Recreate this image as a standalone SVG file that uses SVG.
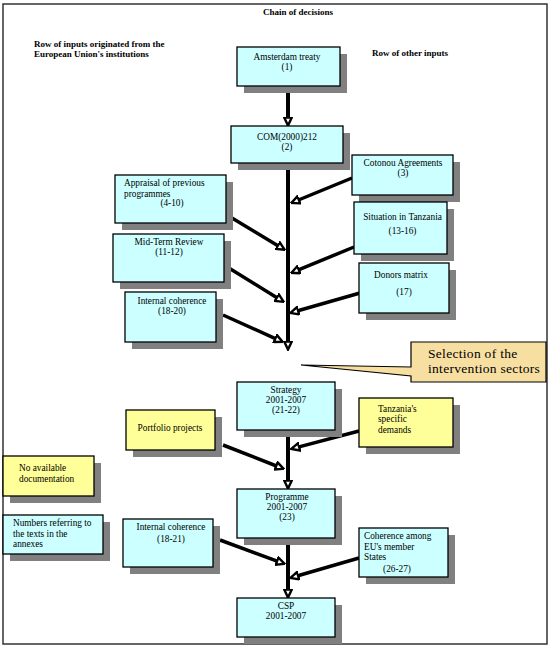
<svg xmlns="http://www.w3.org/2000/svg" width="550" height="651" viewBox="0 0 550 651">
<defs>
<style>
.bg{fill:#ffffff}
.frame{fill:none;stroke:#333333;stroke-width:1.5}
.shadow{fill:#808080}
.cyan{fill:#ccffff;stroke:#000000;stroke-width:1.3}
.yellow{fill:#ffff99;stroke:#000000;stroke-width:1.3}
.callout{fill:#f7dfa2;stroke:#000000;stroke-width:1.2}
text{font-family:"Liberation Serif","Times New Roman",serif;font-size:9.3px;fill:#000000}
.c{text-anchor:middle}
.hdr{font-weight:bold;font-size:9px}
.big{font-size:13.5px;letter-spacing:0.3px}
.main{stroke:#000000;stroke-width:4;fill:none}
.branch{stroke:#000000;stroke-width:3.5;fill:none}
</style>
<marker id="ah" viewBox="0 0 10 10" refX="4" refY="5" markerWidth="10" markerHeight="10" markerUnits="userSpaceOnUse" orient="auto">
<path d="M1,1.2 L9,5 L1,8.8 Z" fill="#ffffff" stroke="#000000" stroke-width="2.4" stroke-linejoin="miter"/>
</marker>
</defs>
<rect class="bg" x="0" y="0" width="550" height="651"/>
<rect class="frame" x="3" y="4" width="544" height="640"/>
<text class="c hdr" x="298" y="15">Chain of decisions</text>
<text class="hdr" x="34" y="47">Row of inputs originated from the</text>
<text class="hdr" x="34" y="57">European Union's institutions</text>
<text class="hdr" x="372" y="56">Row of other inputs</text>

<g id="connectors">
<line class="main" x1="288" y1="86" x2="288" y2="120.6" marker-end="url(#ah)"/>
<line class="main" x1="288" y1="163" x2="288" y2="344.6" marker-end="url(#ah)"/>
<line class="main" x1="288" y1="430" x2="288" y2="483.6" marker-end="url(#ah)"/>
<line class="main" x1="288" y1="538" x2="288" y2="592.6" marker-end="url(#ah)"/>
<line class="branch" x1="352" y1="178" x2="296" y2="201" marker-end="url(#ah)"/>
<line class="branch" x1="227" y1="215" x2="280.4" y2="247.2" marker-end="url(#ah)"/>
<line class="branch" x1="354" y1="247" x2="296" y2="270.9" marker-end="url(#ah)"/>
<line class="branch" x1="224" y1="265" x2="279.4" y2="299.2" marker-end="url(#ah)"/>
<line class="branch" x1="360" y1="293" x2="295.2" y2="311.5" marker-end="url(#ah)"/>
<line class="branch" x1="223" y1="315" x2="278.1" y2="339.8" marker-end="url(#ah)"/>
<line class="branch" x1="359" y1="431" x2="296.2" y2="447.6" marker-end="url(#ah)"/>
<line class="branch" x1="223" y1="445" x2="279" y2="467" marker-end="url(#ah)"/>
<line class="branch" x1="359" y1="558" x2="295.2" y2="576.5" marker-end="url(#ah)"/>
<line class="branch" x1="220" y1="540" x2="279.9" y2="562.1" marker-end="url(#ah)"/>
</g>

<g id="amsterdam">
<rect class="shadow" x="244" y="54" width="103" height="39"/>
<rect class="cyan" x="237" y="47" width="103" height="39"/>
<text class="c" x="287" y="60">Amsterdam treaty</text>
<text class="c" x="287" y="70">(1)</text>
</g>
<g id="com">
<rect class="shadow" x="238" y="133" width="112" height="37"/>
<rect class="cyan" x="231" y="126" width="112" height="37"/>
<text class="c" x="287" y="140">COM(2000)212</text>
<text class="c" x="287" y="150">(2)</text>
</g>
<g id="cotonou">
<rect class="shadow" x="359" y="162" width="101" height="40"/>
<rect class="cyan" x="352" y="155" width="101" height="40"/>
<text class="c" x="403" y="166">Cotonou Agreements</text>
<text class="c" x="403" y="176">(3)</text>
</g>
<g id="appraisal">
<rect class="shadow" x="122" y="182" width="111" height="48"/>
<rect class="cyan" x="115" y="175" width="111" height="48"/>
<text x="124" y="186">Appraisal of previous</text>
<text x="124" y="197">programmes</text>
<text class="c" x="172" y="206">(4-10)</text>
</g>
<g id="situation">
<rect class="shadow" x="361" y="209" width="93" height="52"/>
<rect class="cyan" x="354" y="202" width="93" height="52"/>
<text class="c" x="402.5" y="220">Situation in Tanzania</text>
<text class="c" x="402.5" y="234">(13-16)</text>
</g>
<g id="midterm">
<rect class="shadow" x="120" y="241" width="111" height="48"/>
<rect class="cyan" x="113" y="234" width="111" height="48"/>
<text class="c" x="169" y="245">Mid-Term Review</text>
<text class="c" x="169" y="255">(11-12)</text>
</g>
<g id="donors">
<rect class="shadow" x="366" y="270" width="90" height="50"/>
<rect class="cyan" x="359" y="263" width="90" height="50"/>
<text class="c" x="401" y="278">Donors matrix</text>
<text class="c" x="404" y="295">(17)</text>
</g>
<g id="internal1">
<rect class="shadow" x="132" y="299" width="91" height="50"/>
<rect class="cyan" x="125" y="292" width="91" height="50"/>
<text class="c" x="172" y="304">Internal coherence</text>
<text class="c" x="172" y="314">(18-20)</text>
</g>
<g id="selection">
<path class="callout" d="M411,342 H546 V382 H411 V376 L301,365 L411,367 Z"/>
<text class="big" x="428" y="358">Selection of the</text>
<text class="big" x="428" y="373">intervention sectors</text>
</g>
<g id="strategy">
<rect class="shadow" x="244" y="389" width="98" height="48"/>
<rect class="cyan" x="237" y="382" width="98" height="48"/>
<text class="c" x="286" y="393">Strategy</text>
<text class="c" x="286" y="403">2001-2007</text>
<text class="c" x="286" y="413">(21-22)</text>
</g>
<g id="portfolio">
<rect class="shadow" x="133" y="417" width="89" height="40"/>
<rect class="yellow" x="126" y="410" width="89" height="40"/>
<text class="c" x="170" y="431">Portfolio projects</text>
</g>
<g id="tanzania">
<rect class="shadow" x="366" y="405" width="94" height="49"/>
<rect class="yellow" x="359" y="398" width="94" height="49"/>
<text x="378" y="412">Tanzania's</text>
<text x="378" y="422">specific</text>
<text x="378" y="433">demands</text>
</g>
<g id="nodoc">
<rect class="shadow" x="10" y="463" width="91" height="40"/>
<rect class="yellow" x="3" y="456" width="91" height="40"/>
<text x="19" y="471">No available</text>
<text x="19" y="482">documentation</text>
</g>
<g id="programme">
<rect class="shadow" x="244" y="496" width="98" height="49"/>
<rect class="cyan" x="237" y="489" width="98" height="49"/>
<text class="c" x="287" y="500">Programme</text>
<text class="c" x="287" y="510">2001-2007</text>
<text class="c" x="287" y="520">(23)</text>
</g>
<g id="numbers">
<rect class="shadow" x="10" y="522" width="100" height="39"/>
<rect class="cyan" x="3" y="515" width="100" height="39"/>
<text x="13" y="526">Numbers referring to</text>
<text x="13" y="537">the texts in the</text>
<text x="13" y="547">annexes</text>
</g>
<g id="internal2">
<rect class="shadow" x="130" y="526" width="90" height="48"/>
<rect class="cyan" x="123" y="519" width="90" height="48"/>
<text class="c" x="171" y="530">Internal coherence</text>
<text class="c" x="171" y="542">(18-21)</text>
</g>
<g id="coherence">
<rect class="shadow" x="366" y="535" width="89" height="49"/>
<rect class="cyan" x="359" y="528" width="89" height="49"/>
<text x="364" y="539">Coherence among</text>
<text x="364" y="550">EU's member</text>
<text x="364" y="560">States</text>
<text class="c" x="397" y="572">(26-27)</text>
</g>
<g id="csp">
<rect class="shadow" x="244" y="605" width="98" height="39"/>
<rect class="cyan" x="237" y="598" width="98" height="39"/>
<text class="c" x="286" y="609">CSP</text>
<text class="c" x="286" y="619">2001-2007</text>
</g>
</svg>
